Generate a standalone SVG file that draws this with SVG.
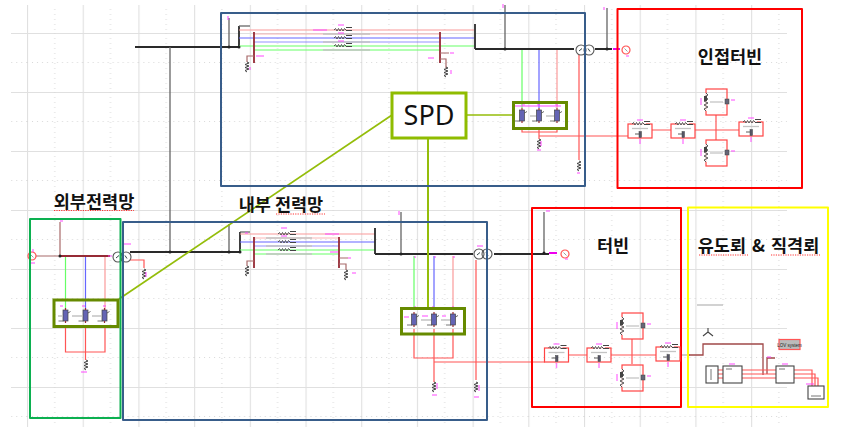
<svg xmlns="http://www.w3.org/2000/svg" xmlns:xlink="http://www.w3.org/1999/xlink" width="864" height="427" viewBox="0 0 864 427">
<style>
.box{fill:none;stroke-linejoin:round}
.t{font-family:"Noto Sans CJK KR","Noto Sans",sans-serif;font-weight:700;fill:#111}
.bk{stroke:#2a2a2a;stroke-width:1.800;fill:none}
.gy{stroke:#666;stroke-width:1.300;fill:none}
.dr{stroke:#962a35;stroke-width:1.800;fill:none}
.bn{stroke:#a86a6a;stroke-width:1.200;fill:none}
.rd{stroke:#f55;stroke-width:1.200;fill:none}
.gr{stroke:#6f6;stroke-width:1.200;fill:none}
.bl{stroke:#66f;stroke-width:1.200;fill:none}
.pk{stroke:#fa9a9a;stroke-width:1.200;fill:none}
.lb{stroke:#f4f;stroke-width:1.500;opacity:.65;fill:none}
.lg{stroke:#c4c4c4;stroke-width:1.300;fill:none}
.sq{stroke:#f33;stroke-width:1;stroke-dasharray:1.200 1.200;fill:none}
.blk{fill:none;stroke:#f44;stroke-width:1.200}
</style>
<defs>
<pattern id="grid" patternUnits="userSpaceOnUse" x="27" y="33" width="55.7" height="59">
<path d="M0 0V59M0 0H55.7" stroke="#e0e0e0" stroke-width="2.200" fill="none"/>
<path d="M27.8 0V59M0 29.5H55.7" stroke="#d8d8d8" stroke-width="1" stroke-dasharray="1 4" fill="none"/>
</pattern>
<g id="rv"><path d="M0-5 2-4-2-2.500 2-1-2 .5 2 2-2 3.500 0 5" fill="none" stroke="#444" stroke-width="1"/></g>
<g id="rh"><path d="M-6 0-4.500-1.500-3 1-1.500-1.500 0 1 1.500-1.500 3 1 4.500-1.500 6 0" fill="none" stroke="#555" stroke-width="1"/><path d="M6-2.500h6M6 .5h6" stroke="#444" stroke-width="1"/></g>
<g id="ar"><rect x="-2.500" y="-6" width="5" height="11" fill="#6464b4" stroke="#444" stroke-width=".7"/><path d="M0-8v2M0 5v2" stroke="#962a35" stroke-width="1.200"/><path d="M2.500-3 5-4.500" stroke="#444" stroke-width=".8"/><path d="M-7 5h5" stroke="#555" stroke-width=".8"/></g>
<g id="blkH"><rect x="0" y="0" width="24" height="14" class="blk"/><path d="M7 0h11" stroke="#fff" stroke-width="1.600"/><use xlink:href="#rh" x="10" y="0"/><path d="M4 4.500H20" class="lg" stroke-width="1"/><path d="M7 10h5" stroke="#333" stroke-width=".8"/><rect x="11" y="7.500" width="2.500" height="6" fill="#556" stroke="#444" stroke-width=".5"/><path d="M12 15v5" class="lb"/><path d="M9-4h6" class="lb"/></g>
<g id="blkV"><rect x="0" y="0" width="21" height="26" class="blk"/><path d="M0 4v18" stroke="#fff" stroke-width="1.600"/><path d="M0 4 2 6-2 8 2 10-2 12 2 14-2 16 2 18-2 20 0 22" fill="none" stroke="#555" stroke-width="1"/><rect x="-2" y="7" width="3" height="5" fill="#444"/><path d="M4 13H17" class="lg"/><rect x="19" y="10" width="4" height="5" fill="#667" stroke="#444" stroke-width=".5"/><path d="M-5 9v7" class="lb"/><path d="M25 11h4" class="lb"/></g>
<g id="xf"><circle cx="-4" cy="0" r="5" fill="#fff" stroke="#555" stroke-width="1.100"/><circle cx="4" cy="0" r="5" fill="none" stroke="#555" stroke-width="1.100"/><path d="M-6 1-3-1.500M3-1.500l2 3" stroke="#344" stroke-width="1"/></g>
<g id="sr"><circle r="4" fill="#fff" stroke="#f55" stroke-width="1.200"/><path d="M-1.500-1.500 1.500 1.500" stroke="#888" stroke-width=".8"/></g>
</defs>

<rect id="background" width="864" height="427" fill="#fff"/>
<rect id="grid-field" x="11" y="5" width="776" height="422" fill="url(#grid)"/>

<g id="connectors">
<path class="bk" d="M135 47H239M475 49H574M595 49H612"/>
<path class="gy" d="M170 47V252M229 18V47"/>
<path class="bk" d="M239 47V26"/><path class="gy" d="M239 26H250"/>
<path class="pk" d="M239 30H474"/><path class="pk" d="M254 34H440" opacity=".7"/>
<path class="bl" d="M239 38H474"/><path class="bl" d="M254 42H440" opacity=".7"/>
<path class="gr" d="M239 46H474"/><path class="gr" d="M254 50H440"/>
<path class="bk" d="M475 24V49"/><path class="gy" d="M505 5V49M607 8V49"/>
<path class="dr" d="M254 32V63M440 32V63"/>
<path class="bn" d="M254 56H247V62M440 53H449M440 59H446V68"/>
<path class="gr" d="M522 50V108"/><path class="bl" d="M539 50V108"/><path class="pk" d="M557 50V108"/>
<path class="rd" d="M522 127V132H557V127M539 127V139M539 136H628M579 50V160"/>
<path class="rd" d="M652 130H671M695 130H739M716 115V140"/>
<path class="bn" d="M35 256H60M60 222V256"/>
<path class="dr" d="M60 256H110"/>
<path class="gr" d="M65.500 257V310"/><path class="bl" d="M85.500 257V310"/><path class="pk" d="M105 257V310"/>
<path class="rd" d="M65.500 327V352H105V327M85.500 327V360M130 260H144V268"/>
<path class="bk" d="M130 252H239M375 254H473M494 254H549"/>
<path class="gy" d="M229 224V252M401 212V254M544 212V253"/>
<path class="bk" d="M240 252V232"/><path class="gy" d="M240 232H250"/>
<path class="pk" d="M240 234H375"/><path class="pk" d="M254 238H339" opacity=".7"/>
<path class="bl" d="M240 242H375"/><path class="bl" d="M254 246H339" opacity=".7"/>
<path class="gr" d="M240 250H375"/><path class="gr" d="M254 254H339"/>
<path class="bk" d="M375 228V254"/>
<path class="dr" d="M254 237V268M339 237V268"/>
<path class="bn" d="M254 261H247V266M339 258H348M339 264H346V270"/>
<path class="gr" d="M414 256V310"/><path class="bl" d="M434 256V310"/><path class="pk" d="M453 256V310"/>
<path class="rd" d="M414 329V358H453V329M434 329V382M434 362H545M476 260V380"/>
<path class="rd" d="M569 355H587M611 355H656M632 339V364"/>
<path d="M680 355H690" stroke="#999" stroke-width="1" fill="none"/>
<path d="M688 355H703V344H763V375" stroke="#a04848" stroke-width="1.300" fill="none"/>
<path d="M767 374V358H775" stroke="#a04848" stroke-width="1.300" fill="none"/>
<path class="rd" d="M718 370H723M718 374H723M718 378H723"/>
<path class="rd" d="M742 370H776M742 374H776M742 378H776"/>
<path class="rd" d="M794 370H812V386M794 374H815V386M794 378H818V386"/>
<g fill="none" stroke="#94bd0a"><path d="M392 115 119 299" stroke-width="1.700"/><path d="M466 115H513" stroke-width="1.700"/><path d="M428 138V308" stroke-width="2"/></g>
</g>

<g id="junctions" fill="#222">
<circle cx="60" cy="256" r="1.500"/><circle cx="170" cy="252" r="1.500"/><circle cx="229" cy="252" r="1.500"/><circle cx="240" cy="252" r="1.500"/><circle cx="229" cy="47" r="1.500"/><circle cx="239" cy="47" r="1.500"/><circle cx="505" cy="49" r="1.500"/><circle cx="607" cy="49" r="1.500"/><circle cx="401" cy="254" r="1.500"/><circle cx="544" cy="253" r="1.500"/>
</g>

<g id="symbols">
<use xlink:href="#xf" x="122" y="257"/><use xlink:href="#xf" x="483" y="254"/><use xlink:href="#xf" x="585" y="50"/>
<use xlink:href="#sr" x="32" y="256"/><use xlink:href="#sr" x="626" y="50"/><use xlink:href="#sr" x="565" y="254"/>
<use xlink:href="#ar" x="65.500" y="316"/><use xlink:href="#ar" x="85.500" y="316"/><use xlink:href="#ar" x="104.500" y="316"/>
<use xlink:href="#ar" x="522" y="116"/><use xlink:href="#ar" x="539" y="116"/><use xlink:href="#ar" x="557" y="116"/>
<use xlink:href="#ar" x="414" y="320"/><use xlink:href="#ar" x="434" y="320"/><use xlink:href="#ar" x="453" y="320"/>
<use xlink:href="#rv" x="144" y="274"/><use xlink:href="#rv" x="86" y="365"/><use xlink:href="#rv" x="247" y="67"/><use xlink:href="#rv" x="446" y="72"/><use xlink:href="#rv" x="247" y="271"/><use xlink:href="#rv" x="346" y="275"/><use xlink:href="#rv" x="539" y="144"/><use xlink:href="#rv" x="579" y="166"/><use xlink:href="#rv" x="434" y="387"/><use xlink:href="#rv" x="476" y="387"/>
<use xlink:href="#rh" x="340" y="30"/><use xlink:href="#rh" x="340" y="38"/><use xlink:href="#rh" x="340" y="46"/>
<use xlink:href="#rh" x="284" y="234"/><use xlink:href="#rh" x="284" y="242"/><use xlink:href="#rh" x="284" y="250"/>
<path class="lg" d="M323 34H370M323 42H370M323 50H370M266 238H312M266 246H312M266 254H312M697 305H723M58 316H62M72 316H82M92 316H101M421 320H431M441 320H450M530 116H536M546 116H554"/>
<g class="lb"><path d="M338 25h6M313 30h14M338 33h6M338 41h6M256 56h8M434 58h-6M450 53h4M451 70v4M250 67v3M60 221h3M123 244h8M33 252v-3M29 263h6M112 256h-4M146 272v5M81 372h6M60 306h3M82 306h3M103 306h3M522 105h3M537 105h3M555 105h3M515 106h46M537 150h4M577 173h3M541 141v5M626 56h3M228 16v4M604 7v3M503 4v4M546 211h4M399 211v4M565 259h3M414 257h2M434 257h2M453 257h2M404 317h5M422 316h6M442 316h4M414 307h2M432 307h2M452 307h2M432 395h5M474 397h5M479 385v6M437 383v6M338 252h-8M352 273h4M325 234h14M348 258h3M477 246h6M245 233h3M281 228h6M281 236h6M767 357h4M729 364h6M782 364h6M806 384h8"/></g>
<path d="M613 49h7M549 253h8" stroke="#e0e" stroke-width="1.800" fill="none"/>
<path d="M708 332V328M708 332 703 336M708 332 713 336" stroke="#444" stroke-width="1.100" fill="none"/>
</g>

<g id="ext-grid">
<rect class="box" x="30" y="219" width="90.500" height="199" stroke="#0cb050" stroke-width="2"/>
<text class="t" x="94" y="207.500" font-size="17.500" text-anchor="middle">외부전력망</text>
<path class="sq" d="M54 210.500H134"/>
</g>
<g id="int-grid">
<rect class="box" x="123" y="222" width="364" height="198" stroke="#385d8a" stroke-width="2"/>
<text class="t" x="281" y="211" font-size="17.500" text-anchor="middle">내부 전력망</text>
<path class="sq" d="M276 214H325"/>
</g>
<g id="adjacent-grid"><rect class="box" x="221" y="13" width="364" height="173" stroke="#385d8a" stroke-width="2"/></g>

<g id="adjacent-turbine">
<rect class="box" x="617.500" y="9" width="184.500" height="179" stroke="#f00" stroke-width="2"/>
<text class="t" x="730" y="63" font-size="17.500" text-anchor="middle">인접터빈</text>
<use xlink:href="#blkH" x="628" y="124"/><use xlink:href="#blkH" x="671" y="124"/><use xlink:href="#blkV" x="706" y="89"/><use xlink:href="#blkV" x="706" y="140"/>
<use xlink:href="#blkH" x="739" y="122"/>
</g>
<g id="turbine">
<rect class="box" x="532" y="208" width="149" height="199" stroke="#f00" stroke-width="2"/>
<text class="t" x="613" y="252" font-size="17.500" text-anchor="middle">터빈</text>
<use xlink:href="#blkH" x="544.500" y="348"/><use xlink:href="#blkH" x="587" y="348"/><use xlink:href="#blkV" x="622" y="313"/><use xlink:href="#blkV" x="622" y="365"/>
<use xlink:href="#blkH" x="656" y="347"/>
</g>
<g id="lightning">
<rect class="box" x="688" y="207.500" width="140" height="199.500" stroke="#ff0" stroke-width="2"/>
<text class="t" x="758.500" y="252" font-size="17.500" text-anchor="middle" word-spacing="2">유도뢰 &amp; 직격뢰</text>
<path class="sq" d="M699 255H748M771 255H820"/>
<g fill="#fff" stroke="#444" stroke-width="1.100">
<rect x="706" y="366" width="12" height="17"/><rect x="723" y="366" width="19" height="17"/><rect x="776" y="366" width="18" height="17"/><rect x="808" y="386" width="16" height="13"/>
</g>
<path d="M711 369v11M726 369h6M779 369h6M811 396h10" stroke="#777" stroke-width="1" fill="none"/>
<rect x="779" y="339.500" width="21" height="10" fill="#bbb" stroke="#f55" stroke-width="1.200"/>
<text x="789.500" y="346.500" font-family="Liberation Sans,sans-serif" font-size="4.500" text-anchor="middle" fill="#222">LOV system</text>
</g>

<g id="spd-groups" fill="none" stroke="#668a00" stroke-width="3">
<rect id="spd-ext" x="54" y="300" width="64" height="26.500"/>
<rect id="spd-top" x="513.500" y="102.500" width="53" height="26"/>
<rect id="spd-int" x="401.500" y="308.500" width="63" height="25.500"/>
</g>
<g id="spd">
<rect x="392" y="93" width="74" height="45" fill="#fff" stroke="#8fbc00" stroke-width="3"/>
<text x="429" y="125" font-family="Noto Sans,sans-serif" font-size="27" text-anchor="middle" fill="#111">SPD</text>
</g>
</svg>
